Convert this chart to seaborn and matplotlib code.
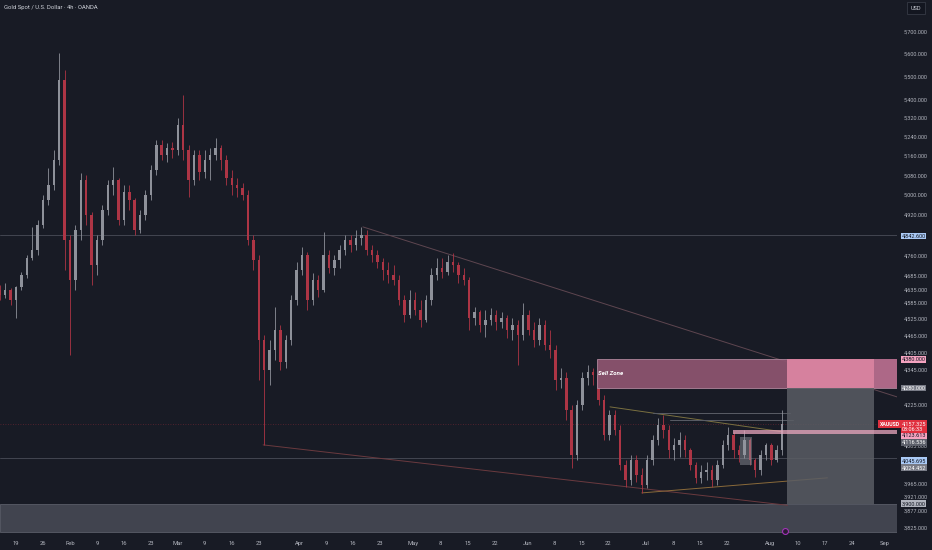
import matplotlib
matplotlib.use("Agg")

import matplotlib.pyplot as plt
import matplotlib.transforms as mtransforms
from matplotlib.patches import Rectangle
from matplotlib.ticker import FixedLocator, FixedFormatter, NullLocator
import numpy as np
import pandas as pd
import seaborn as sns

# daily candles, day 0 = Mon Jan 19 (trading days)
start_day = -3
first_open = 4632
closes = [4613, 4632, 4595, 4643, 4688, 4753, 4783, 4881, 4980, 5040,
          5142, 5484, 4822, 4669, 4861, 5060, 4920, 4726, 4822, 4940,
          5040, 5060, 4900, 5012, 4980, 4861, 4920, 5000, 5101, 5205,
          5163, 5192, 5184, 5289, 5184, 5060, 5163, 5093, 5142, 5163,
          5192, 5142, 5068, 5040, 5028, 5000, 4822, 4745, 4450, 4343,
          4414, 4485, 4372, 4450, 4595, 4707, 4764, 4595, 4669, 4632,
          4764, 4715, 4745, 4783, 4822, 4803, 4830, 4841, 4783, 4764,
          4737, 4707, 4688, 4669, 4595, 4540, 4595, 4558, 4522, 4595,
          4688, 4715, 4700, 4737, 4726, 4688, 4669, 4529, 4551, 4503,
          4522, 4540, 4514, 4529, 4485, 4503, 4467, 4540, 4485, 4450,
          4503, 4432, 4414, 4309, 4316, 4206, 4056, 4223, 4316, 4336,
          4326, 4240, 4122, 4189, 4139, 4024, 3976, 4040, 3992, 3960,
          4040, 4106, 4155, 4139, 4073, 4089, 4106, 4073, 4024, 3982,
          4001, 4008, 3976, 4024, 4089, 4122, 4073, 4056, 4106, 4040,
          4008, 4056, 4089, 4040, 4073, 4157]
highs = [4650, 4658, 4640, 4647, 4700, 4764, 4873, 4900, 5000, 5110,
         5184, 5607, 5528, 4841, 4881, 5089, 5081, 4932, 4841, 4960,
         5060, 5114, 5068, 5040, 5040, 4988, 4940, 5020, 5122, 5226,
         5226, 5213, 5218, 5319, 5418, 5205, 5184, 5184, 5184, 5192,
         5235, 5205, 5163, 5101, 5068, 5048, 5020, 4841, 4764, 4467,
         4450, 4569, 4503, 4467, 4613, 4737, 4795, 4775, 4696, 4688,
         4853, 4783, 4764, 4803, 4841, 4841, 4861, 4873, 4861, 4803,
         4783, 4753, 4737, 4726, 4688, 4613, 4632, 4625, 4595, 4613,
         4715, 4753, 4753, 4764, 4772, 4737, 4715, 4680, 4569, 4558,
         4558, 4566, 4558, 4551, 4540, 4529, 4522, 4584, 4558, 4514,
         4529, 4522, 4485, 4432, 4350, 4336, 4223, 4240, 4336, 4361,
         4350, 4343, 4257, 4206, 4206, 4155, 4040, 4056, 4056, 4014,
         4056, 4122, 4179, 4189, 4155, 4112, 4132, 4122, 4079, 4034,
         4024, 4034, 4024, 4040, 4106, 4149, 4132, 4089, 4139, 4112,
         4047, 4073, 4096, 4096, 4089, 4206]
lows = [4595, 4602, 4577, 4529, 4632, 4677, 4745, 4764, 4869, 4960,
        5020, 5122, 4707, 4396, 4632, 4822, 4881, 4651, 4688, 4803,
        4920, 5000, 4881, 4881, 4940, 4841, 4849, 4900, 4980, 5081,
        5142, 5134, 5151, 5163, 5142, 4992, 5040, 5060, 5068, 5060,
        5142, 5101, 5040, 5000, 4992, 4980, 4803, 4707, 4309, 4089,
        4291, 4378, 4343, 4350, 4432, 4577, 4688, 4558, 4577, 4606,
        4625, 4696, 4688, 4715, 4764, 4776, 4783, 4803, 4764, 4737,
        4715, 4669, 4658, 4651, 4577, 4514, 4529, 4540, 4496, 4514,
        4577, 4669, 4677, 4688, 4700, 4658, 4651, 4485, 4503, 4478,
        4460, 4503, 4485, 4492, 4457, 4450, 4361, 4450, 4467, 4425,
        4432, 4414, 4386, 4274, 4281, 4172, 4014, 4040, 4206, 4291,
        4291, 4223, 4106, 4106, 4122, 4008, 3954, 3960, 3970, 3934,
        3950, 4024, 4089, 4112, 4047, 4040, 4050, 4050, 4008, 3966,
        3966, 3976, 3954, 3960, 4014, 4073, 4047, 4034, 4047, 4024,
        3985, 3992, 4040, 4024, 4034, 4056]

x_ticks = [0, 5, 10, 15, 20, 25, 30, 35, 40, 45, 52.5, 57.5, 62.5, 67.5,
           73.6, 78.6, 83.8, 88.8, 94.9, 99.7, 104.9, 109.8, 116.8, 121.8,
           126.8, 131.8, 139.8, 145, 150, 155, 161]
x_labels = ["19", "26", "Feb", "9", "16", "23", "Mar", "9", "16", "23",
            "Apr", "9", "16", "23", "May", "8", "15", "22", "Jun", "8",
            "15", "22", "Jul", "8", "15", "22", "Aug", "10", "17", "24", "Sep"]
y_ticks = [5700, 5600, 5500, 5400, 5320, 5240, 5160, 5080, 5000, 4920,
           4760, 4685, 4635, 4585, 4525, 4465, 4405, 4345, 4225, 4085,
           3965, 3921, 3877, 3825]

last_price = 4157.325
level_blue_hi = 4842.600
level_blue_lo = 4045.695
sell_top, sell_bottom = 4380.0, 4280.0
target = 3900.0
box_hi, box_lo = 4116.536, 4024.452
pink_lo, pink_hi = 4123.613, 4138.0

BG = "#181b25"
UP = "#8e919a"
DOWN = "#ad3545"
TXT = "#b2b5be"

sns.set_theme(style="dark", rc={"axes.facecolor": BG, "figure.facecolor": BG,
                                "axes.grid": False})
plt.rcParams["font.family"] = ["Roboto", "DejaVu Sans"]

fig = plt.figure(figsize=(9.32, 5.5), dpi=100)
ax = fig.add_axes([0, 15 / 550, 897 / 932, 535 / 550])
ax.set_yscale("log")
x0, x1 = -2.97, 163.3
ax.set_xlim(x0, x1)
ax.set_ylim(3803, 5849)
for s in ax.spines.values():
    s.set_visible(False)

# candles
df = pd.DataFrame({"close": closes, "high": highs, "low": lows})
df["day"] = np.arange(len(df)) + start_day
df["open"] = [first_open] + closes[:-1]
colors = np.where(df["close"] >= df["open"], UP, DOWN)
ax.vlines(df["day"], df["low"], df["high"], colors=colors, linewidth=0.6, zorder=3)
body_lo = df[["open", "close"]].min(axis=1)
body_h = (df["close"] - df["open"]).abs().clip(lower=2)
ax.bar(df["day"], body_h, bottom=body_lo, width=0.45, color=colors,
       linewidth=0, zorder=3)

# zones
ax.add_patch(Rectangle((x0, 3811), x1 - x0, target - 3811, facecolor="#41444f",
                       edgecolor="#5a5d68", linewidth=0.6, zorder=1))
ax.add_patch(Rectangle((107.7, sell_bottom), x1 - 107.7, sell_top - sell_bottom,
                       facecolor="#8c546f", edgecolor="#b48aa0", linewidth=0.6,
                       alpha=0.95, zorder=4))
ax.add_patch(Rectangle((159.1, sell_bottom), x1 - 159.1, sell_top - sell_bottom,
                       facecolor="#ad6887", linewidth=0, zorder=4))
ax.add_patch(Rectangle((142.9, target), 16.2, sell_bottom - target,
                       facecolor="#5a5d64", alpha=0.85, linewidth=0, zorder=4))
ax.add_patch(Rectangle((142.9, sell_bottom), 16.2, sell_top - sell_bottom,
                       facecolor="#d6819e", linewidth=0, zorder=4))
ax.add_patch(Rectangle((132.9, pink_lo), x1 - 132.9, pink_hi - pink_lo,
                       facecolor="#e8a6bd", alpha=0.75, linewidth=0, zorder=5))
ax.add_patch(Rectangle((134.2, box_lo), 2.2, box_hi - box_lo,
                       facecolor="#9598a1", alpha=0.45, linewidth=0, zorder=4))
ax.text(107.9, 4330, "Sell Zone", color="white", fontsize=4.4, style="italic",
        weight="bold", va="center", ha="left", zorder=6)

# levels
ax.axhline(level_blue_hi, color="#4a4d58", linewidth=0.6, zorder=2)
ax.axhline(level_blue_lo, color="#4a4d58", linewidth=0.6, zorder=2)
ax.axhline(last_price, color="#f23645", alpha=0.35, linewidth=0.6,
           linestyle=(0, (1, 2)), zorder=2)

# trend lines
trend = [
    ([45.8, 143.0], [4089, 3895], "#6b3a3f"),
    ([64.3, 163.3], [4873, 4250], "#5e4650"),
    ([116.0, 150.4], [3934, 3982], "#8a6a3a"),
    ([110.1, 142.2], [4216, 4132], "#7a7040"),
    ([121.2, 144.0], [4172, 4172], "#5a5d66"),
    ([118.0, 143.5], [4196, 4196], "#5a5d66"),
]
for xs, ys, c in trend:
    sns.lineplot(x=xs, y=ys, ax=ax, color=c, linewidth=0.7, zorder=2)

# axes ticks
ax.yaxis.tick_right()
ax.yaxis.set_major_locator(FixedLocator(y_ticks))
ax.yaxis.set_major_formatter(FixedFormatter([f"{v:,.3f}" for v in y_ticks]))
ax.yaxis.set_minor_locator(NullLocator())
ax.set_xticks(x_ticks)
ax.set_xticklabels(x_labels)
ax.tick_params(axis="y", length=0, pad=5, labelsize=4.0, colors=TXT)
ax.tick_params(axis="x", length=0, pad=4, labelsize=4.2, colors=TXT)
ax.set_xlabel("")
ax.set_ylabel("")

# price tags on the scale (dy: shift in pixels, as the scale spreads them)
px = 72 / fig.dpi
blend = mtransforms.blended_transform_factory(ax.transAxes, ax.transData)
tags = [
    (level_blue_hi, "4,842.600", "#a9c9f5", "#131722", -1.5),
    (sell_top, "4,380.000", "#f5a3c0", "#131722", 0),
    (sell_bottom, "4,280.000", "#787b86", "#ffffff", 0),
    (pink_lo, "4,123.613", "#f5a3c0", "#131722", -1),
    (box_hi, "4,116.536", "#5d606b", "#ffffff", -6),
    (level_blue_lo, "4,045.695", "#a9c9f5", "#131722", -2.5),
    (box_lo, "4,024.452", "#787b86", "#ffffff", -3),
    (target, "3,900.000", "#b2b5be", "#131722", 0),
]
for price, label, bg, fg, dy in tags:
    tr = mtransforms.offset_copy(blend, fig=fig, x=0, y=dy * px, units="points")
    ax.text(1.005, price, label, transform=tr, fontsize=4.0, color=fg,
            ha="left", va="center", clip_on=False, zorder=10,
            bbox=dict(boxstyle="square,pad=0.15", facecolor=bg, edgecolor="none"))

tr = mtransforms.offset_copy(blend, fig=fig, x=0, y=3 * px, units="points")
ax.text(1.005, last_price, "4,157.325\n03:06:33", transform=tr, fontsize=4.0,
        color="white", ha="left", va="top", linespacing=1.15, clip_on=False,
        zorder=11, bbox=dict(boxstyle="square,pad=0.15", facecolor="#e0303f",
                             edgecolor="none"))
ax.text(0.981, last_price, "XAUUSD", transform=blend, fontsize=3.8, color="white",
        weight="bold", ha="left", va="center", clip_on=False, zorder=11,
        bbox=dict(boxstyle="square,pad=0.3", facecolor="#e0303f", edgecolor="none"))

ax.scatter([142.6], [3816], s=18, facecolor="#2a1b33", edgecolor="#a233b8",
           linewidth=0.8, zorder=12, clip_on=False)

fig.text(4 / 932, 1 - 7 / 550, "Gold Spot / U.S. Dollar \u00b7 4h \u00b7 OANDA",
         color="#d1d4dc", fontsize=4.2, ha="left", va="center")
fig.text(916 / 932, 1 - 8 / 550, "USD", color="#d1d4dc", fontsize=4,
         ha="center", va="center",
         bbox=dict(boxstyle="square,pad=0.6", facecolor="#131620", edgecolor="#363a45",
                   linewidth=0.6))

fig.savefig("out.png", dpi=100, facecolor=BG)
